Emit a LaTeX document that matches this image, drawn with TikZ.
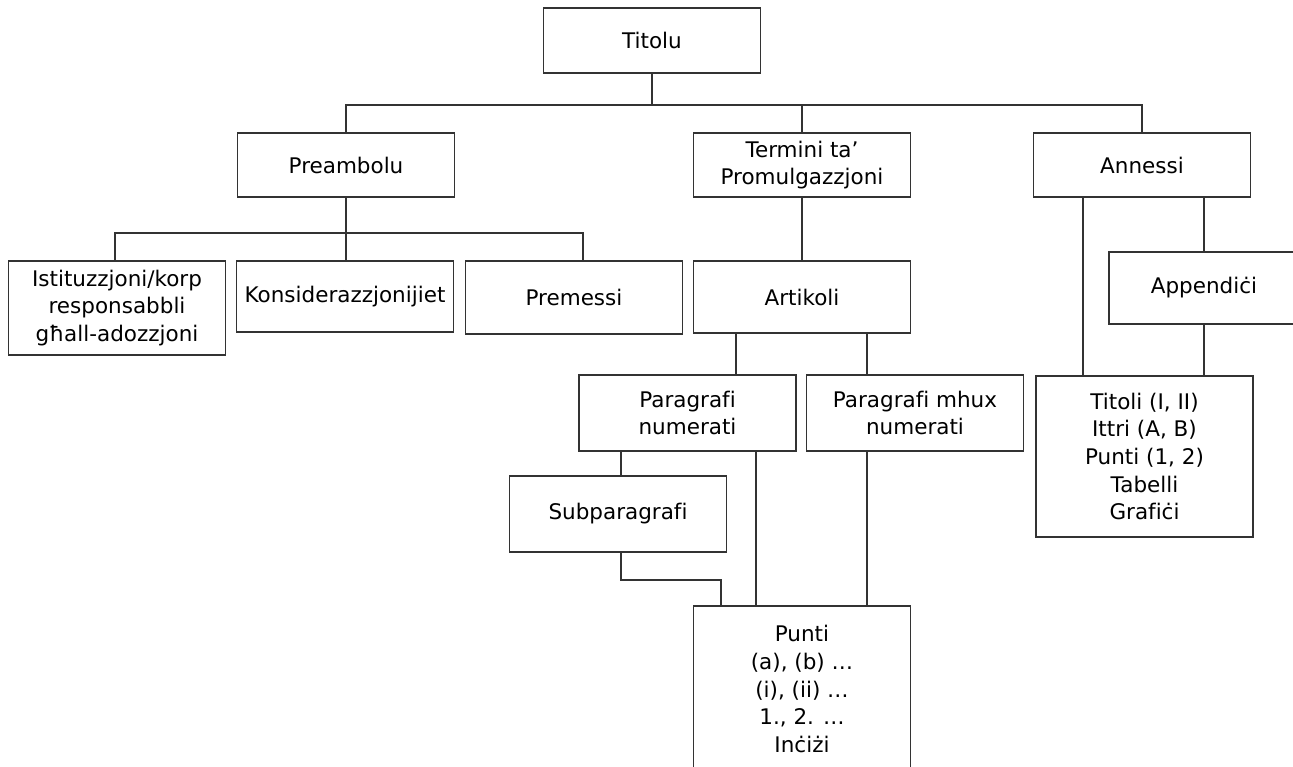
\documentclass[tikz,border=0pt]{standalone}
\usepackage{fontspec}
\setmainfont[Ligatures=NoCommon]{DejaVu Sans}

\begin{document}
\begin{tikzpicture}
  [x=1pt,y=-1pt,line width=1.7pt,color=black!80,
   every node/.style={rectangle, draw=black!80, text=black, align=center,
     inner sep=0pt, minimum width=217pt, font=\fontsize{21.5}{27.6}\selectfont}]
  \useasboundingbox (0,0) rectangle (1293,766);

  \node[minimum height=65pt] (titolu) at (652,40.5) {Titolu};
  \node[minimum height=64pt] (preambolu) at (346,165) {Preambolu};
  \node[minimum height=64pt] (termini) at (802,165) {Termini ta’\\Promulgazzjoni};
  \node[minimum height=64pt] (annessi) at (1142,165) {Annessi};

  \node[minimum height=94pt] (istit) at (117,308) {Istituzzjoni/korp\\responsabbli\\għall-adozzjoni};
  \node[minimum height=71pt] (konsid) at (345,296.5) {Konsiderazzjonijiet};
  \node[minimum height=73pt] (premessi) at (574,297.5) {Premessi};
  \node[minimum height=72pt] (artikoli) at (802,297) {Artikoli};
  \node[minimum height=72pt, minimum width=190pt] (appendici) at (1204,288) {Appendiċi};

  \node[minimum height=76pt] (parnum) at (687.5,413) {Paragrafi\\numerati};
  \node[minimum height=76pt] (parmhux) at (915,413) {Paragrafi mhux\\numerati};
  \node[minimum height=161pt] (titoli) at (1144.5,456.5) {Titoli (I, II)\\Ittri (A, B)\\Punti (1, 2)\\Tabelli\\Grafiċi};
  \node[minimum height=76pt] (subpar) at (618,514) {Subparagrafi};
  \node[minimum height=166pt] (punti) at (802,689) {Punti\\(a), (b) …\\(i), (ii) …\\1., 2. …\\Inċiżi};

  \foreach \to in {preambolu,termini,annessi}
    \draw (titolu.south) -- ++(0,31) -| (\to.north);
  \foreach \to/\dx in {istit/-2,konsid/1,premessi/9}
    \draw (preambolu.south) -- ++(0,35) -| ([xshift=\dx pt]\to.north);
  \draw (termini) -- (artikoli);

  \foreach \from/\dx/\to in {artikoli/-66/parnum,artikoli/65/parmhux,
      parnum/-66.5/subpar,parnum/68.5/punti,parmhux/-48/punti,
      annessi/-59/titoli,annessi/62/appendici,appendici/0/titoli}{
    \coordinate (stub) at ([xshift=\dx pt]\from.south);
    \draw (stub) -- (stub |- \to.north);
  }
  \draw ([xshift=3pt]subpar.south) -- ++(0,27) -| ([xshift=-81pt]punti.north);
\end{tikzpicture}
\end{document}
